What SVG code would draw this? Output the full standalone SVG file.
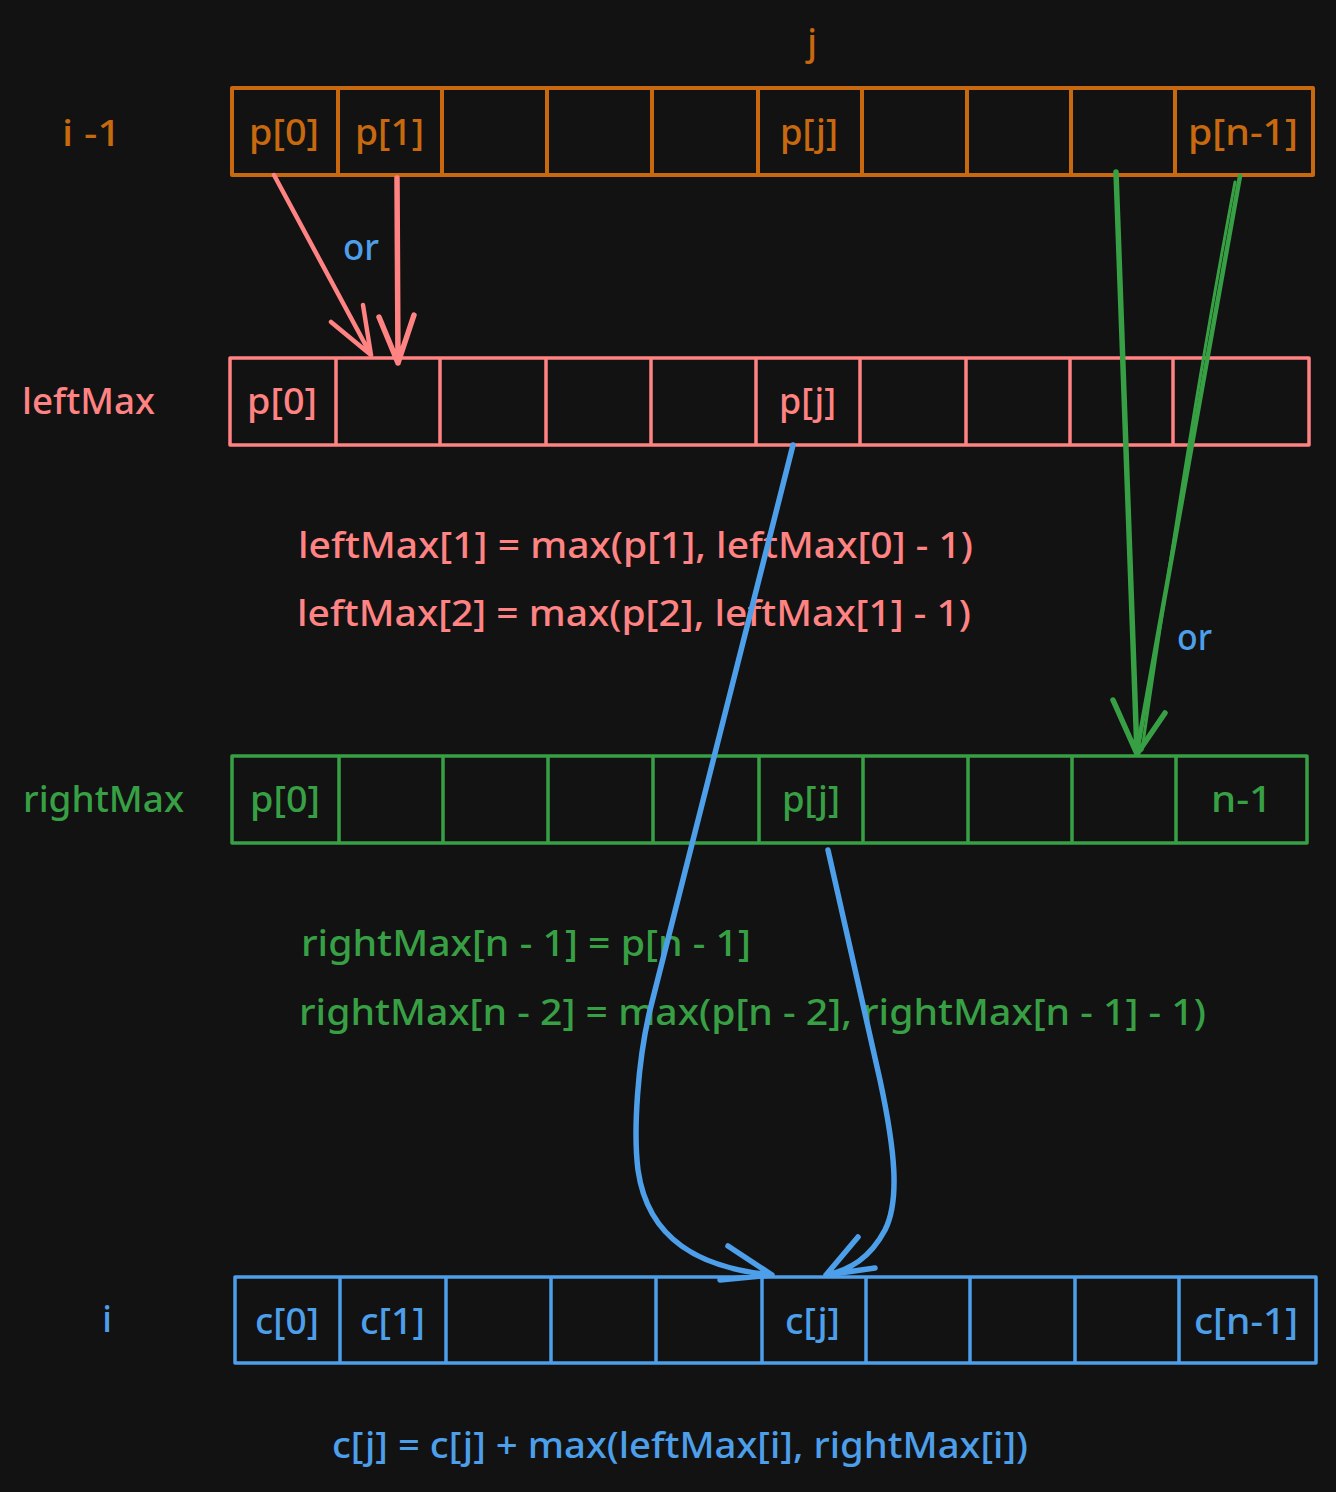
<svg xmlns="http://www.w3.org/2000/svg" width="1336" height="1492" viewBox="0 0 1336 1492">
<style>
text{font-family:"Noto Sans","Open Sans","Liberation Sans",sans-serif;font-size:36px;font-weight:500}
.or{fill:#c8690f}.pk{fill:#ff8383}.gr{fill:#38a044}.bl{fill:#4d9fea}
.cell{fill:none;stroke-width:3.5;stroke-linejoin:round}
.so{stroke:#c8690f;stroke-width:4}.sp{stroke:#ff8383}.sg{stroke:#38a044}.sb{stroke:#4d9fea}
.ar{fill:none;stroke-width:5.5;stroke-linecap:round;stroke-linejoin:round}
</style>
<rect width="1336" height="1492" fill="#121212"/>
<g id="label-j"><text class="or" x="812" y="55" text-anchor="middle">j</text></g>
<g id="label-i-1"><text class="or" x="62" y="146" textLength="59" lengthAdjust="spacingAndGlyphs">i -1</text></g>
<g id="row-p">
<rect class="cell so" x="232" y="88" width="1081" height="87"/>
<path class="cell so" d="M338 88V175M442 88V175M547 88V175M652 88V175M758 88V175M862 88V175M967 88V175M1071 88V175M1175 88V175"/>
<text class="or" x="249" y="145" textLength="70" lengthAdjust="spacingAndGlyphs">p[0]</text>
<text class="or" x="355" y="145" textLength="69" lengthAdjust="spacingAndGlyphs">p[1]</text>
<text class="or" x="780" y="145" textLength="58" lengthAdjust="spacingAndGlyphs">p[j]</text>
<text class="or" x="1188" y="145" textLength="110" lengthAdjust="spacingAndGlyphs">p[n-1]</text>
</g>
<g id="label-leftMax"><text class="pk" x="22" y="414" textLength="133" lengthAdjust="spacingAndGlyphs">leftMax</text></g>
<g id="row-leftMax">
<rect class="cell sp" x="230" y="358" width="1079" height="87"/>
<path class="cell sp" d="M336 358V445M440 358V445M546 358V445M651 358V445M756 358V445M860 358V445M966 358V445M1070 358V445M1173 358V445"/>
<text class="pk" x="247" y="414" textLength="70" lengthAdjust="spacingAndGlyphs">p[0]</text>
<text class="pk" x="779" y="414" textLength="57" lengthAdjust="spacingAndGlyphs">p[j]</text>
</g>
<g id="formula-left">
<text class="pk" x="298" y="558" textLength="675" lengthAdjust="spacingAndGlyphs">leftMax[1] = max(p[1], leftMax[0] - 1)</text>
<text class="pk" x="297" y="626" textLength="674" lengthAdjust="spacingAndGlyphs">leftMax[2] = max(p[2], leftMax[1] - 1)</text>
</g>
<g id="label-rightMax"><text class="gr" x="23" y="812" textLength="161" lengthAdjust="spacingAndGlyphs">rightMax</text></g>
<g id="row-rightMax">
<rect class="cell sg" x="232" y="756" width="1075" height="87"/>
<path class="cell sg" d="M339 756V843M443 756V843M548 756V843M653 756V843M759 756V843M863 756V843M968 756V843M1072 756V843M1176 756V843"/>
<text class="gr" x="250" y="812" textLength="70" lengthAdjust="spacingAndGlyphs">p[0]</text>
<text class="gr" x="782" y="812" textLength="58" lengthAdjust="spacingAndGlyphs">p[j]</text>
<text class="gr" x="1211" y="812" textLength="61" lengthAdjust="spacingAndGlyphs">n-1</text>
</g>
<g id="formula-right">
<text class="gr" x="301" y="956" textLength="450" lengthAdjust="spacingAndGlyphs">rightMax[n - 1] = p[n - 1]</text>
<text class="gr" x="299" y="1025" textLength="907" lengthAdjust="spacingAndGlyphs">rightMax[n - 2] = max(p[n - 2], rightMax[n - 1] - 1)</text>
</g>
<g id="label-i"><text class="bl" x="107" y="1332" text-anchor="middle">i</text></g>
<g id="row-c">
<rect class="cell sb" x="235" y="1277" width="1081" height="86"/>
<path class="cell sb" d="M340 1277V1363M446 1277V1363M551 1277V1363M656 1277V1363M762 1277V1363M866 1277V1363M970 1277V1363M1075 1277V1363M1179 1277V1363"/>
<text class="bl" x="255" y="1334" textLength="64" lengthAdjust="spacingAndGlyphs">c[0]</text>
<text class="bl" x="360" y="1334" textLength="65" lengthAdjust="spacingAndGlyphs">c[1]</text>
<text class="bl" x="785" y="1334" textLength="55" lengthAdjust="spacingAndGlyphs">c[j]</text>
<text class="bl" x="1194" y="1334" textLength="104" lengthAdjust="spacingAndGlyphs">c[n-1]</text>
</g>
<g id="formula-c"><text class="bl" x="332" y="1458" textLength="696" lengthAdjust="spacingAndGlyphs">c[j] = c[j] + max(leftMax[i], rightMax[i])</text></g>
<g id="connectors">
<path class="ar sp" style="stroke-width:4.5" d="M274 175L371 355M331 322L371 355M363 305L371 355"/>
<path class="ar sp" d="M397 178L398 363M379 317L398 363M414 315L398 363"/>
<path class="ar sg" d="M1116 172L1137 754M1113 700L1137 754M1165 713L1137 754"/>
<path class="ar sg" style="stroke-width:4.5" d="M1240 176L1137 752"/>
<path class="ar sg" style="stroke-width:3" d="M1235 182Q1190 420 1142 750"/>
<path class="ar sb" d="M793 445L650 1010C638 1060 633 1130 638 1170C648 1240 700 1268 772 1275M728 1246L772 1275M720 1280L772 1275"/>
<path class="ar sb" d="M828 850L880 1080C895 1150 900 1200 885 1230C870 1258 850 1270 826 1275M858 1237L826 1275M875 1268L826 1275"/>
</g>
<g id="label-or-1"><text class="bl" x="343" y="260" textLength="36" lengthAdjust="spacingAndGlyphs">or</text></g>
<g id="label-or-2"><text class="bl" x="1177" y="650" textLength="35" lengthAdjust="spacingAndGlyphs">or</text></g>
</svg>
